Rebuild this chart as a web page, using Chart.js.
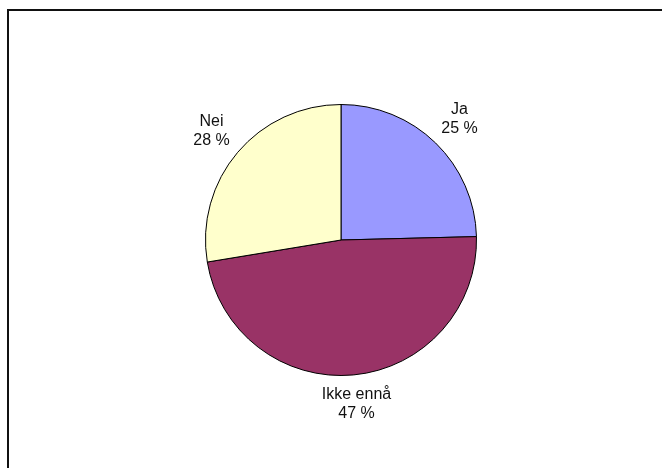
<!DOCTYPE html>
<html>
<head>
<meta charset="utf-8">
<script src="https://cdn.jsdelivr.net/npm/chart.js@4"></script>
<style>
  html, body { margin: 0; padding: 0; background: #fff; overflow: hidden; }
  #ramme {
    position: absolute; left: 7px; top: 9px; width: 700px; height: 500px;
    border-left: 2px solid #111; border-top: 2px solid #111;
  }
  #wrap { position: absolute; left: 0; top: 0; width: 662px; height: 468px; }
</style>
</head>
<body>
<div id="ramme"></div>
<div id="wrap"><canvas id="kake"></canvas></div>
<script>
// svarkategorier, bitstørrelser lest av bildet, og prosentene som står i etikettene
const kategorier = ["Ja", "Ikke ennå", "Nei"];
const andeler = [24.6, 47.8, 27.6];
const prosentTekst = [25, 47, 28];
const farger = ["#9999FF", "#993366", "#FFFFCC"];

// tegner etikett + prosent utenfor hver bit
const etiketter = {
  id: "etiketter",
  afterDatasetsDraw(chart) {
    const ctx = chart.ctx;
    const meta = chart.getDatasetMeta(0);
    ctx.save();
    ctx.font = "16px 'Liberation Sans', Arial, sans-serif";
    ctx.fillStyle = "#111";
    ctx.textAlign = "center";
    ctx.textBaseline = "middle";
    meta.data.forEach((arc, i) => {
      const linje1 = kategorier[i];
      const linje2 = prosentTekst[i] + " %";
      const hw = Math.max(ctx.measureText(linje1).width, ctx.measureText(linje2).width) / 2;
      const hh = 16;
      const mid = (arc.startAngle + arc.endAngle) / 2;
      const c = Math.cos(mid), s = Math.sin(mid);
      // avstand: radius + luft + boksens utstrekning i retningen
      const d = arc.outerRadius + 10 + Math.abs(c) * hw + Math.abs(s) * hh;
      const x = arc.x + c * d;
      const y = arc.y + s * d;
      ctx.fillText(linje1, x, y - 9);
      ctx.fillText(linje2, x, y + 10);
    });
    ctx.restore();
  }
};

new Chart(document.getElementById("kake"), {
  type: "pie",
  data: {
    labels: kategorier,
    datasets: [{
      data: andeler,
      backgroundColor: farger,
      borderColor: "#000",
      borderWidth: 1
    }]
  },
  options: {
    responsive: true,
    maintainAspectRatio: false,
    animation: false,
    layout: { padding: { top: 104, bottom: 92, left: 205, right: 185 } },
    plugins: {
      legend: { display: false },
      tooltip: { enabled: false }
    }
  },
  plugins: [etiketter]
});
</script>
</body>
</html>
